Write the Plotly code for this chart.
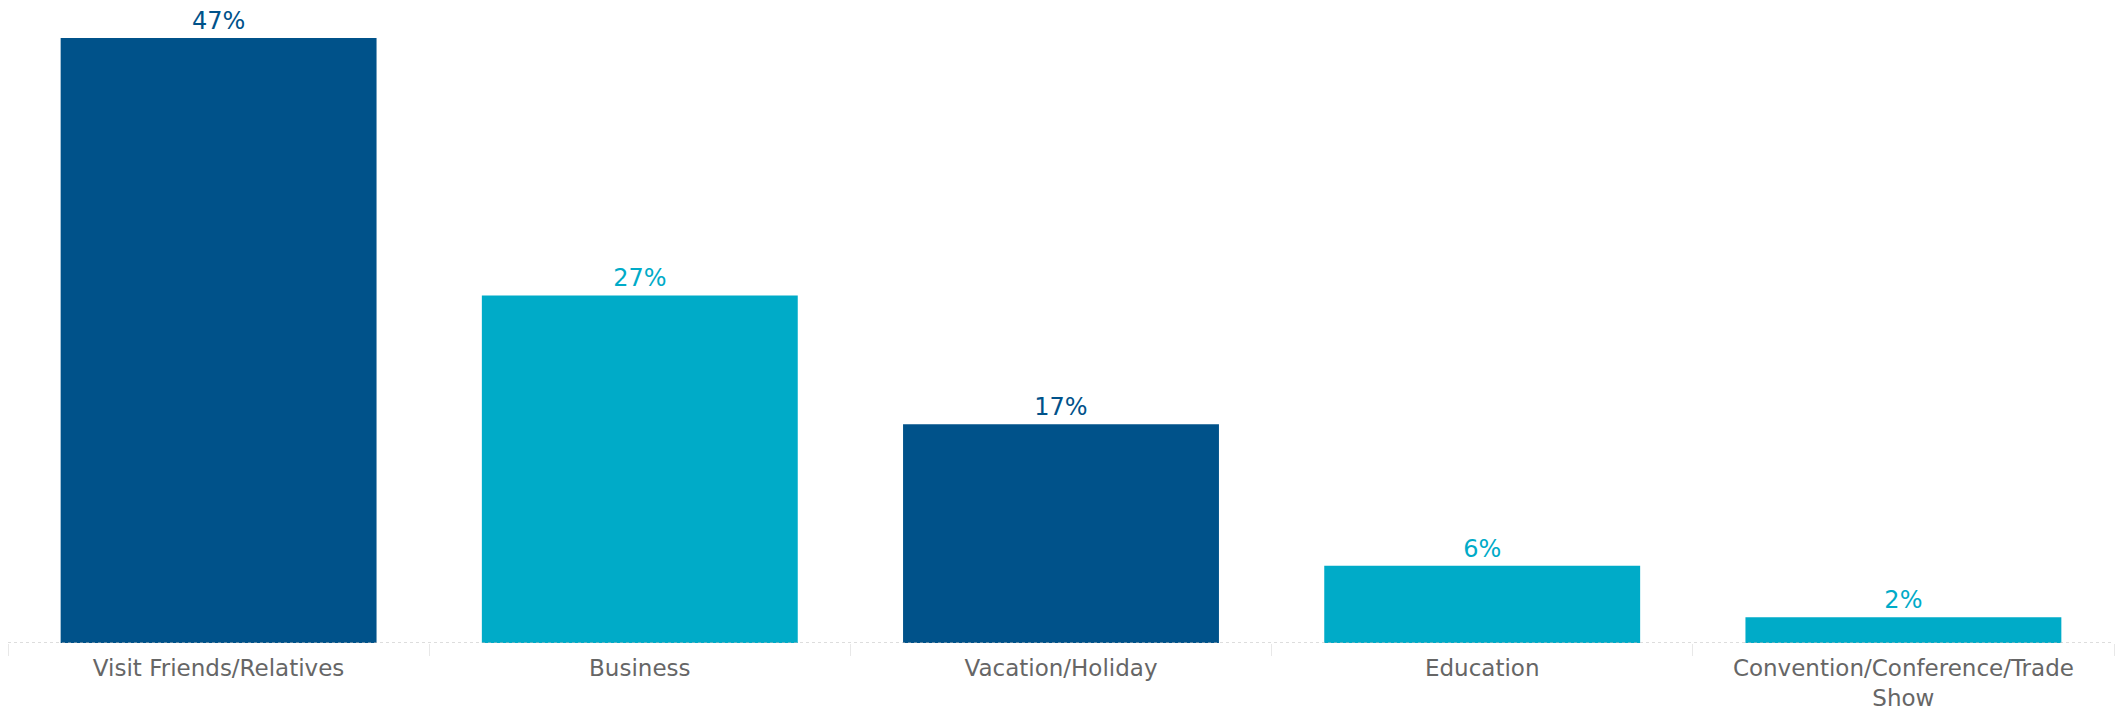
import plotly.graph_objects as go

categories = ['Visit Friends/Relatives', 'Business', 'Vacation/Holiday', 'Education',
              'Convention/Conference/Trade<br>Show']
shares = [47, 27, 17, 6, 2]
labels = ['47%', '27%', '17%', '6%', '2%']

dark_blue = '#00528A'
light_blue = '#00ABC8'
colors = [dark_blue, light_blue, dark_blue, light_blue, light_blue]


def main():
    fig = go.Figure()
    fig.add_trace(go.Bar(
        x=categories, y=shares,
        marker=dict(color=colors, line=dict(width=0)),
        text=labels, textposition='outside',
        textfont=dict(color=colors, size=24, family='DejaVu Sans'),
        cliponaxis=False,
        hoverinfo='skip',
    ))

    # dotted baseline along the category axis
    fig.add_shape(type='line', xref='paper', yref='y', x0=0, x1=1, y0=0, y1=0,
                  line=dict(color='#BBBBBB', width=1, dash='dot'))

    # page body adds 8px, so the figure is a bit smaller than the window
    fig.update_layout(
        width=2116, height=703,
        margin=dict(l=0, r=10, t=0, b=68),
        paper_bgcolor='white', plot_bgcolor='white',
        bargap=0.25, showlegend=False,
        font=dict(family='DejaVu Sans', size=23, color='#666666'),
        xaxis=dict(
            showgrid=False, zeroline=False, showline=False,
            ticks='outside', tickson='boundaries', ticklen=12,
            tickcolor='#E8E8E8', tickwidth=1,
            ticklabelstandoff=9,
            tickfont=dict(size=23, color='#666666'),
        ),
        yaxis=dict(range=[0, 49.33], visible=False, fixedrange=True),
    )
    fig.write_html('out.html')


if __name__ == '__main__':
    main()
